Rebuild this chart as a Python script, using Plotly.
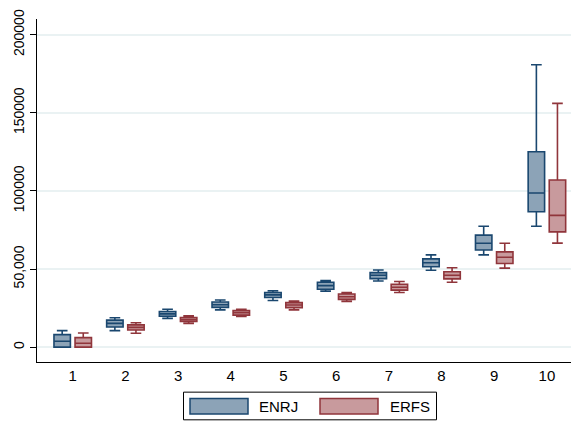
import plotly.graph_objects as go

categories = ["1", "2", "3", "4", "5", "6", "7", "8", "9", "10"]

# ENRJ box statistics
enrj_lower = [0, 10600, 18400, 23900, 29900, 35900, 42400, 49200, 59100, 77400]
enrj_q1 = [0, 12900, 19800, 25500, 31800, 37100, 43900, 51500, 62200, 86700]
enrj_median = [3800, 15200, 21300, 27200, 33500, 39400, 46000, 54000, 66500, 98700]
enrj_q3 = [8000, 17300, 22800, 28900, 35000, 41600, 47700, 56500, 71700, 125100]
enrj_upper = [10600, 18800, 24300, 30200, 36100, 42600, 49400, 59100, 77400, 180800]

# ERFS box statistics
erfs_lower = [0, 8900, 15200, 19600, 23900, 29300, 35000, 41600, 50600, 66600]
erfs_q1 = [0, 11000, 16500, 20500, 25300, 30600, 36500, 43700, 53600, 73800]
erfs_median = [2500, 12700, 17700, 22000, 27000, 32300, 38400, 46000, 57600, 84400]
erfs_q3 = [6100, 14300, 19000, 23400, 28500, 34000, 40300, 48300, 61000, 107000]
erfs_upper = [9100, 15600, 20000, 24300, 29500, 35000, 42000, 50800, 66500, 156100]

y_tickvals = [0, 50000, 100000, 150000, 200000]
y_ticktext = ["0", "50,000", "100000", "150000", "200000"]

series_names = ["ENRJ", "ERFS"]
line_colors = ["#1a476f", "#90353b"]
fill_colors = ["#8ca3b7", "#c89a9d"]

FONT = "Liberation Sans, Arial, Helvetica, sans-serif"
# page body has an 8px default margin: the figure starts at (8, 8) in the window
OFF = 8
W, H = 579 - OFF, 422 - OFF
# plot area edges in window pixels
L, R, T, B = 37, 578, 15, 362


def px_x(p):
    return (p - L) / (R - L)


def px_y(p):
    return (B - p) / (B - T)


fig = go.Figure()
stats = [
    (enrj_lower, enrj_q1, enrj_median, enrj_q3, enrj_upper),
    (erfs_lower, erfs_q1, erfs_median, erfs_q3, erfs_upper),
]
for name, (lo, q1, med, q3, hi), lc, fc in zip(series_names, stats, line_colors, fill_colors):
    fig.add_trace(go.Box(
        name=name,
        x=categories,
        lowerfence=lo, q1=q1, median=med, q3=q3, upperfence=hi,
        boxpoints=False,
        line=dict(color=lc, width=1.6),
        fillcolor=fc,
        whiskerwidth=0.65,
        showlegend=False,
    ))

shapes = []
annotations = []
# legend frame
shapes.append(dict(type="rect", xref="paper", yref="paper",
                   x0=px_x(183.5), x1=px_x(436.5), y0=px_y(392.5), y1=px_y(420.5),
                   line=dict(color="#000000", width=1), fillcolor="white", layer="above"))
legend_x = [(190, 248, 257), (320, 378, 388)]
for name, lc, fc, (sx0, sx1, tx) in zip(series_names, line_colors, fill_colors, legend_x):
    shapes.append(dict(type="rect", xref="paper", yref="paper",
                       x0=px_x(sx0), x1=px_x(sx1), y0=px_y(399), y1=px_y(414.5),
                       line=dict(color=lc, width=1.5), fillcolor=fc, layer="above"))
    annotations.append(dict(text=name, xref="paper", yref="paper",
                            x=px_x(tx), y=px_y(407), xanchor="left", yanchor="middle",
                            showarrow=False, font=dict(family=FONT, size=15, color="#000000")))

fig.update_layout(
    width=W, height=H,
    margin=dict(l=L - OFF, r=579 - R, t=T - OFF, b=422 - B, pad=0),
    paper_bgcolor="white", plot_bgcolor="white",
    boxmode="group", boxgap=0.2, boxgroupgap=0.22,
    font=dict(family=FONT, size=15, color="#000000"),
    shapes=shapes, annotations=annotations,
    showlegend=False,
)
fig.update_xaxes(
    type="category", categoryorder="array", categoryarray=categories,
    range=[-0.678, 9.59],
    showline=True, linecolor="#000000", linewidth=1.2,
    ticks="", showgrid=False, zeroline=False,
    tickfont=dict(family=FONT, size=15, color="#000000"),
)
fig.update_yaxes(
    range=[-9500, 210100],
    tickvals=y_tickvals, ticktext=y_ticktext, tickangle=-90,
    ticklabeloverflow="allow",
    showline=True, linecolor="#000000", linewidth=1.2,
    ticks="outside", ticklen=6, tickcolor="#000000", tickwidth=1,
    showgrid=True, gridcolor="#eaf2f3", gridwidth=1.5,
    zeroline=False,
    tickfont=dict(family=FONT, size=14, color="#000000"),
)

fig.write_html("out.html")
